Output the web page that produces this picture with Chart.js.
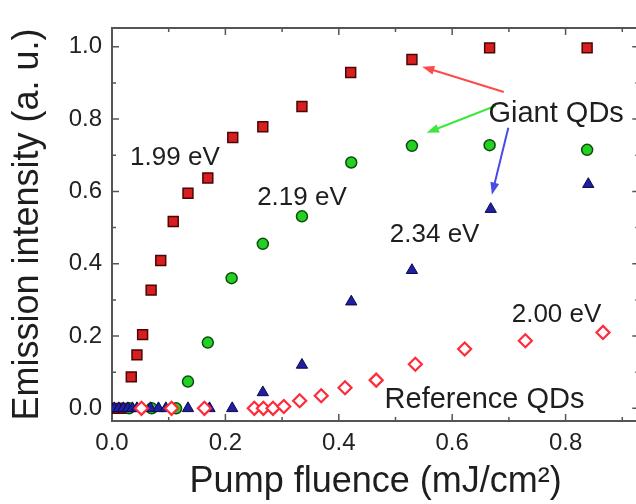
<!DOCTYPE html>
<html>
<head>
<meta charset="utf-8">
<script src="https://cdn.jsdelivr.net/npm/chart.js@4.4.0/dist/chart.umd.min.js"></script>
<style>
    html, body { margin: 0; padding: 0; overflow: hidden; background: #fff; }
    #wrap { width: 648px; height: 504px; }
</style>
</head>
<body>
<div id="wrap"><canvas id="canvas"></canvas></div>
<script>
// Giant QDs, 1.99 eV (red squares)
var redX = [0.010, 0.020, 0.034, 0.044, 0.054, 0.069, 0.086, 0.108, 0.134, 0.169, 0.213, 0.266, 0.335, 0.421, 0.529, 0.666, 0.838];
var redY = [0.000, 0.000, 0.087, 0.148, 0.204, 0.327, 0.409, 0.517, 0.595, 0.637, 0.749, 0.779, 0.835, 0.929, 0.965, 0.997, 0.997];

// Giant QDs, 2.19 eV (green circles)
var greenX = [0.030, 0.070, 0.113, 0.134, 0.169, 0.211, 0.266, 0.335, 0.422, 0.529, 0.666, 0.838];
var greenY = [0.000, 0.000, 0.000, 0.074, 0.182, 0.360, 0.455, 0.531, 0.680, 0.726, 0.728, 0.715];

// Giant QDs, 2.34 eV (navy triangles)
var blueX = [0.004, 0.012, 0.020, 0.028, 0.036, 0.044, 0.068, 0.082, 0.095, 0.134, 0.172, 0.212, 0.266, 0.335, 0.422, 0.529, 0.668, 0.840];
var blueY = [0, 0, 0, 0, 0, 0, 0, 0, 0, 0, 0, 0, 0.044, 0.120, 0.295, 0.382, 0.551, 0.620];

// Reference QDs, 2.00 eV (open diamonds)
var refX = [0.052, 0.105, 0.163, 0.251, 0.267, 0.284, 0.303, 0.331, 0.369, 0.411, 0.466, 0.535, 0.622, 0.729, 0.866];
var refY = [0.000, 0.000, 0.000, 0.000, 0.000, 0.000, 0.005, 0.021, 0.035, 0.057, 0.078, 0.122, 0.164, 0.187, 0.210];

var xTicks = [0.0, 0.2, 0.4, 0.6, 0.8];
var yTicks = [0.0, 0.2, 0.4, 0.6, 0.8, 1.0];

// text labels and arrows, in data units
var labels = [
    { text: '1.99 eV', x: 0.111, y: 0.674, size: 26, align: 'center' },
    { text: '2.19 eV', x: 0.335, y: 0.563, size: 26, align: 'center' },
    { text: '2.34 eV', x: 0.569, y: 0.461, size: 26, align: 'center' },
    { text: '2.00 eV', x: 0.784, y: 0.239, size: 26, align: 'center' },
    { text: 'Reference QDs', x: 0.657, y: 0.001, size: 29, align: 'center' },
    { text: 'Giant QDs', x: 0.664, y: 0.793, size: 29, align: 'left' }
];
var arrows = [
    { from: [0.691, 0.875], to: [0.547, 0.945], color: '#ff4a4a' },
    { from: [0.677, 0.837], to: [0.555, 0.762], color: '#3ce83c' },
    { from: [0.699, 0.776], to: [0.670, 0.591], color: '#4a4ae6' }
];

function points(xs, ys) {
    return xs.map(function(x, i) { return { x: x, y: ys[i] }; });
}

var font = "'Liberation Sans', Arial, sans-serif";

var frameTicks = {
    id: 'frameTicks',
    beforeDatasetsDraw: function(chart) {
        var ctx = chart.ctx, a = chart.chartArea;
        var xs = chart.scales.x, ys = chart.scales.y;
        ctx.save();
        ctx.strokeStyle = '#555';
        ctx.lineWidth = 2;
        ctx.strokeRect(a.left, a.top, a.right - a.left, a.bottom - a.top);
        ctx.lineWidth = 1.5;
        ctx.beginPath();
        for (var i = 0; i <= 9; i++) {
            var px = xs.getPixelForValue(i / 10);
            var len = i % 2 === 0 ? 7 : 4;
            ctx.moveTo(px, a.bottom); ctx.lineTo(px, a.bottom - len);
            ctx.moveTo(px, a.top); ctx.lineTo(px, a.top + len);
        }
        for (var j = 0; j <= 10; j++) {
            var py = ys.getPixelForValue(j / 10);
            var l = j % 2 === 0 ? 7 : 4;
            ctx.moveTo(a.left, py); ctx.lineTo(a.left + l, py);
            ctx.moveTo(a.right, py); ctx.lineTo(a.right - l, py);
        }
        ctx.stroke();
        ctx.restore();
    },
    afterDatasetsDraw: function(chart) {
        var ctx = chart.ctx;
        var xs = chart.scales.x, ys = chart.scales.y;
        ctx.save();
        arrows.forEach(function(ar) {
            var x0 = xs.getPixelForValue(ar.from[0]), y0 = ys.getPixelForValue(ar.from[1]);
            var x1 = xs.getPixelForValue(ar.to[0]), y1 = ys.getPixelForValue(ar.to[1]);
            var ang = Math.atan2(y1 - y0, x1 - x0);
            var head = 13;
            ctx.strokeStyle = ar.color;
            ctx.fillStyle = ar.color;
            ctx.lineWidth = 2;
            ctx.beginPath();
            ctx.moveTo(x0, y0);
            ctx.lineTo(x1 - Math.cos(ang) * head * 0.8, y1 - Math.sin(ang) * head * 0.8);
            ctx.stroke();
            ctx.beginPath();
            ctx.moveTo(x1, y1);
            ctx.lineTo(x1 - Math.cos(ang - 0.35) * head, y1 - Math.sin(ang - 0.35) * head);
            ctx.lineTo(x1 - Math.cos(ang + 0.35) * head, y1 - Math.sin(ang + 0.35) * head);
            ctx.closePath();
            ctx.fill();
        });
        ctx.fillStyle = '#1e1e1e';
        ctx.textBaseline = 'alphabetic';
        labels.forEach(function(lb) {
            ctx.font = lb.size + 'px ' + font;
            ctx.textAlign = lb.align;
            ctx.fillText(lb.text, xs.getPixelForValue(lb.x), ys.getPixelForValue(lb.y));
        });
        ctx.restore();
    }
};

var config = {
    type: 'scatter',
    data: {
        datasets: [{
            label: 'Reference QDs 2.00 eV',
            data: points(refX, refY),
            pointStyle: 'rectRot',
            pointRadius: 6.5,
            backgroundColor: '#ffffff',
            borderColor: '#ff2a3a',
            borderWidth: 2.2
        }, {
            label: '2.34 eV',
            data: points(blueX, blueY),
            pointStyle: 'triangle',
            pointRadius: 6.5,
            backgroundColor: '#1f1fa0',
            borderColor: '#0a0a50',
            borderWidth: 1
        }, {
            label: '2.19 eV',
            data: points(greenX, greenY),
            pointStyle: 'circle',
            pointRadius: 5.5,
            backgroundColor: '#25d025',
            borderColor: '#0b4d0b',
            borderWidth: 1.5
        }, {
            label: '1.99 eV',
            data: points(redX, redY),
            pointStyle: 'rect',
            pointRadius: 7,
            backgroundColor: '#d81f1f',
            borderColor: '#4a0505',
            borderWidth: 1.5
        }]
    },
    options: {
        responsive: true,
        maintainAspectRatio: false,
        animation: false,
        layout: { padding: { top: 28, right: 7, left: 0, bottom: 0 } },
        plugins: {
            legend: { display: false },
            tooltip: { enabled: false }
        },
        scales: {
            x: {
                type: 'linear',
                min: 0,
                max: 0.93,
                afterBuildTicks: function(scale) { scale.ticks = xTicks.map(function(v) { return { value: v }; }); },
                afterFit: function(scale) { scale.height = 83; },
                grid: { display: false, drawTicks: false },
                border: { display: false },
                ticks: {
                    padding: 8,
                    color: '#222',
                    font: { family: font, size: 24 },
                    callback: function(v) { return v.toFixed(1); }
                },
                title: {
                    display: true,
                    text: 'Pump fluence (mJ/cm²)',
                    color: '#1e1e1e',
                    font: { family: font, size: 36 },
                    padding: { top: 0, bottom: 0 }
                }
            },
            y: {
                type: 'linear',
                min: -0.035,
                max: 1.052,
                afterBuildTicks: function(scale) { scale.ticks = yTicks.map(function(v) { return { value: v }; }); },
                afterFit: function(scale) { scale.width = 112; },
                grid: { display: false, drawTicks: false },
                border: { display: false },
                ticks: {
                    padding: 10,
                    color: '#222',
                    font: { family: font, size: 24 },
                    callback: function(v) { return v.toFixed(1); }
                },
                title: {
                    display: true,
                    text: 'Emission intensity (a. u.)',
                    color: '#1e1e1e',
                    font: { family: font, size: 36 },
                    padding: { top: 6, bottom: 0 }
                }
            }
        }
    },
    plugins: [frameTicks]
};

window.myChart = new Chart(document.getElementById('canvas'), config);
</script>
</body>
</html>
